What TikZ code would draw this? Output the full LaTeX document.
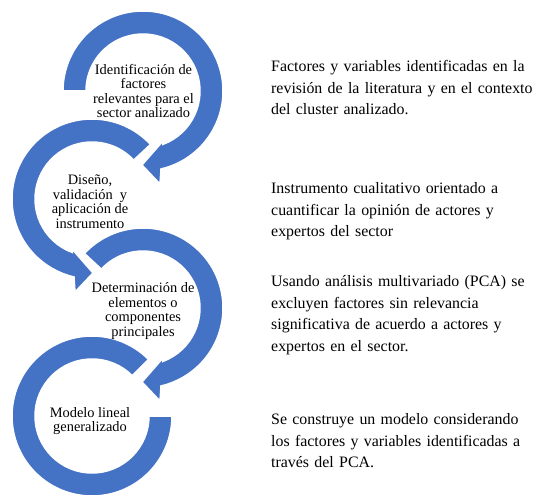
\documentclass[tikz,border=0pt]{standalone}
\usepackage{fontspec}
\setmainfont{Liberation Serif}
\definecolor{arcblue}{HTML}{4472C4}
\begin{document}
\begin{tikzpicture}[x=1pt,y=1pt,
  ring/.style={fill=arcblue, draw=white, line width=1.5pt, line join=miter},
  steptext/.style={font=\fontsize{14.4}{14.5}\selectfont, align=center, inner sep=0pt},
  desc/.style={font=\fontsize{15.9}{21.6}\selectfont, text width=300pt, align=left, inner sep=0pt, anchor=base west}]
\useasboundingbox (0,0) rectangle (535,499);
\coordinate (C1) at (143,408);
\coordinate (C2) at (92,300);
\coordinate (C3) at (143,191);
\coordinate (C4) at (92,83);
% circle 4
\begin{scope}[shift={(C4)}]
  \path[ring] (45:80) arc[start angle=45,end angle=360,radius=80] -- (0:57)
    arc[start angle=360,end angle=45,radius=57] -- cycle;
\end{scope}
% circle 3
\begin{scope}[shift={(C3)}]
  \path[ring] (137:80) arc[start angle=137,end angle=-77,radius=80] -- (17,-93) -- (-1,-74) -- (20,-50) -- (-69.7:57)
    arc[start angle=-69.7,end angle=137,radius=57] -- cycle;
\end{scope}
% circle 2
\begin{scope}[shift={(C2)}]
  \path[ring] (43:80) arc[start angle=43,end angle=257,radius=80] -- (-17,-93) -- (1,-74) -- (-20,-50) -- (249.7:57)
    arc[start angle=249.7,end angle=43,radius=57] -- cycle;
\end{scope}
% circle 1
\begin{scope}[shift={(C1)}]
  \path[ring] (180:80) arc[start angle=180,end angle=-77,radius=80] -- (17,-93) -- (-1,-74) -- (20,-50) -- (-69.7:57)
    arc[start angle=-69.7,end angle=180,radius=57] -- cycle;
\end{scope}
% step texts
\node[steptext] (t1) at (143.5,408) {Identificación de\\factores\\relevantes para el\\sector analizado};
\node[steptext] (t2) at (90,297.5) {Diseño,\\validación~ y\\aplicación de\\instrumento};
\node[steptext] (t3) at (143,188) {Determinación de\\elementos o\\componentes\\principales};
\node[steptext] (t4) at (90,78) {Modelo lineal\\generalizado};
% descriptions
\node[desc] (d1) at (271,427.3) {Factores y variables identificadas en la\\revisión de la literatura y en el contexto\\del cluster analizado.};
\node[desc] (d2) at (271,305.3) {Instrumento cualitativo orientado a\\cuantificar la opinión de actores y\\expertos del sector};
\node[desc] (d3) at (271,212.3) {Usando análisis multivariado (PCA) se\\excluyen factores sin relevancia\\significativa de acuerdo a actores y\\expertos en el sector.};
\node[desc] (d4) at (271,74.3) {Se construye un modelo considerando\\los factores y variables identificadas a\\través del PCA.};
\end{tikzpicture}
\end{document}
